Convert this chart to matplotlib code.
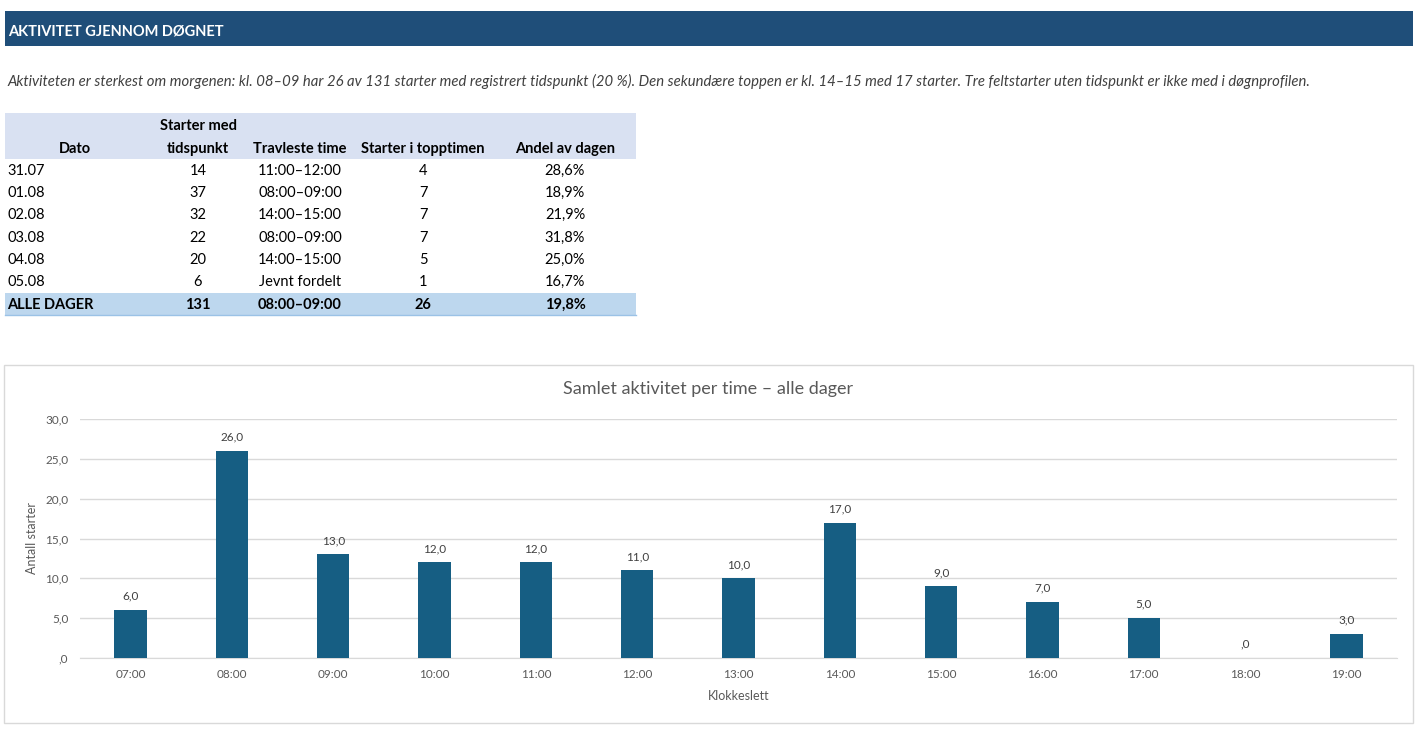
import matplotlib
matplotlib.use("Agg")
import matplotlib.pyplot as plt
from matplotlib.patches import Rectangle
from matplotlib.ticker import MultipleLocator, FuncFormatter

W, H = 1415, 749

# --- data -------------------------------------------------------------
hours = ['07:00', '08:00', '09:00', '10:00', '11:00', '12:00', '13:00',
         '14:00', '15:00', '16:00', '17:00', '18:00', '19:00']
counts = [6, 26, 13, 12, 12, 11, 10, 17, 9, 7, 5, 0, 3]

dates = ['31.07', '01.08', '02.08', '03.08', '04.08', '05.08']
starts = [14, 37, 32, 22, 20, 6]
busiest = ['11:00–12:00', '08:00–09:00', '14:00–15:00',
           '08:00–09:00', '14:00–15:00', 'Jevnt fordelt']
top_counts = [4, 7, 7, 7, 5, 1]
shares = ['28,6%', '18,9%', '21,9%', '31,8%', '25,0%', '16,7%']
total_row = ['ALLE DAGER', '131', '08:00–09:00', '26', '19,8%']

title = "AKTIVITET GJENNOM DØGNET"
summary = ("Aktiviteten er sterkest om morgenen: kl. 08–09 har 26 av 131 starter med "
           "registrert tidspunkt (20 %). Den sekundære toppen er kl. 14–15 med 17 starter. "
           "Tre feltstarter uten tidspunkt er ikke med i døgnprofilen.")
chart_title = "Samlet aktivitet per time – alle dager"

FONT = 'Lato'
plt.rcParams['font.family'] = [FONT, 'DejaVu Sans']

fig = plt.figure(figsize=(W / 100, H / 100), dpi=100)


def fx(x):
    return x / W


def fy(y):
    return 1 - y / H


def box(x0, y0, x1, y1, **kw):
    fig.patches.append(Rectangle((fx(x0), fy(y1)), fx(x1 - x0), (y1 - y0) / H,
                                 transform=fig.transFigure, **kw))


def fmt(v):
    s = f"{v:.1f}".replace('.', ',')
    if s.startswith('0,'):
        s = s[1:]
    return s


# header bar
box(5, 11, 1413, 46, facecolor='#1F4E79', edgecolor='none')
fig.text(fx(8), fy(35), title, color='white', fontsize=10.5, fontweight='bold',
         va='baseline', ha='left')

# summary line
fig.text(fx(7), fy(81), summary, color='#404040', fontsize=10.75, style='italic',
         va='center', ha='left')

# --- table --------------------------------------------------------------
box(5, 113, 636, 159, facecolor='#D9E1F2', edgecolor='none')
box(5, 293, 636, 315, facecolor='#BDD7EE', edgecolor='none')
fig.add_artist(plt.Line2D([fx(5), fx(636)], [fy(315), fy(315)], color='#9BC2E6', lw=1))

col_x = [75, 198, 300, 423, 565]
tkw = dict(fontsize=10.5, color='black', va='center')
fig.text(fx(col_x[1]), fy(126), 'Starter med', ha='center', fontweight='bold', **tkw)
for cx, lab in zip(col_x, ['Dato', 'tidspunkt', 'Travleste time',
                           'Starter i topptimen', 'Andel av dagen']):
    fig.text(fx(cx), fy(149), lab, ha='center', fontweight='bold', **tkw)

row_y = [171, 193, 215, 238, 260, 282]
for y, d, s, b, t, sh in zip(row_y, dates, starts, busiest, top_counts, shares):
    fig.text(fx(7), fy(y), d, ha='left', **tkw)
    for cx, val in zip(col_x[1:], [str(s), b, str(t), sh]):
        fig.text(fx(cx), fy(y), val, ha='center', **tkw)

fig.text(fx(7), fy(305), total_row[0], ha='left', fontweight='bold', **tkw)
for cx, val in zip(col_x[1:], total_row[1:]):
    fig.text(fx(cx), fy(305), val, ha='center', fontweight='bold', **tkw)

# --- chart ----------------------------------------------------------------
box(4, 365, 1413, 723, facecolor='none', edgecolor='#D9D9D9', lw=1)
fig.text(fx(708), fy(389), chart_title, ha='center', va='center',
         fontsize=13, color='#595959')

ax = fig.add_axes([fx(80), fy(658), fx(1397 - 80), (658 - 419) / H])
x = list(range(len(hours)))
bars = ax.bar(x, counts, width=0.32, color='#165E83', zorder=3)
ax.set_xlim(-0.5, len(hours) - 0.5)
ax.set_ylim(0, 30)
ax.yaxis.set_major_locator(MultipleLocator(5))
ax.yaxis.set_major_formatter(FuncFormatter(lambda v, p: fmt(v)))
ax.set_xticks(x)
ax.set_xticklabels(hours)
ax.grid(axis='y', color='#D9D9D9', lw=1, zorder=0)
for side in ['top', 'right', 'left']:
    ax.spines[side].set_visible(False)
ax.spines['bottom'].set_color('#D9D9D9')
ax.tick_params(length=0, labelsize=8.5, labelcolor='#595959')
ax.tick_params(axis='x', pad=8)
ax.tick_params(axis='y', pad=8.5)
ax.set_xlabel('Klokkeslett', fontsize=9, color='#595959', labelpad=7)
ax.set_ylabel('Antall starter', fontsize=9, color='#595959', labelpad=5)

for xi, v in zip(x, counts):
    ax.annotate(fmt(v), (xi, v), xytext=(0, 6), textcoords='offset points',
                ha='center', va='bottom', fontsize=8.5, color='#404040')

fig.savefig('out.png', dpi=100)
